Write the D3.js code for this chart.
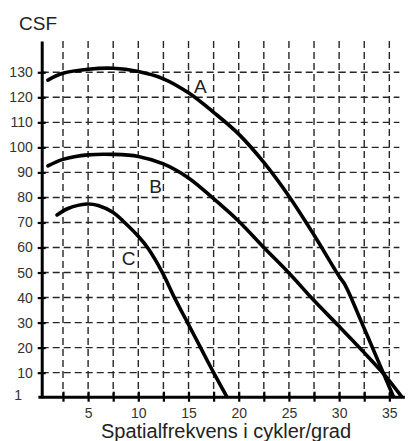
<!DOCTYPE html>
<html>
<head>
<meta charset="utf-8">
<script src="https://cdn.jsdelivr.net/npm/d3@7"></script>
<style>
  html, body { margin: 0; padding: 0; background: #fff; }
  svg { display: block; font-family: "Liberation Sans", Arial, sans-serif; }
</style>
</head>
<body>
<svg id="chart" width="410" height="441"></svg>
<script>
// ---- data ----
const xTickValues = [2.5, 5, 7.5, 10, 12.5, 15, 17.5, 20, 22.5, 25, 27.5, 30, 32.5, 35];
const xTickLabels = [5, 10, 15, 20, 25, 30, 35];
const yTickValues = [1, 10, 20, 30, 40, 50, 60, 70, 80, 90, 100, 110, 120, 130];
const yGridValues = [10, 20, 30, 40, 50, 60, 70, 80, 90, 100, 110, 120, 130];

const curveA = [[1.0,126.9],[2.5,129.6],[5,131.2],[7.5,131.6],[10,130.3],[12.5,127.4],[15,121.8],[17.5,114],[20,105.3],[22.5,94],[25,80.5],[27.5,65],[30,48.5],[30.6,45],[32.3,29.5],[34,13.6],[35.4,0.5]];
const curveB = [[1.0,92.6],[2.5,95.2],[5,97.0],[7.5,97.2],[10,96.4],[12.5,93.4],[15,87.8],[17.5,79.5],[20,70.5],[22.5,60],[25,49.8],[27.5,38.8],[30,28.5],[32.5,18],[34.5,9.2],[36.2,0.5]];
const curveC = [[1.9,73.0],[3,75.6],[4.9,77.4],[6,76.8],[7.5,74.0],[8.5,70.5],[10,64.5],[11,59.5],[12.4,50],[13.6,40],[14.9,30],[16.2,20],[17.5,10],[18.8,0.5]];
const seriesNames = ["A", "B", "C"];
const labelAnchors = [[15.55,121.6],[11.1,81.9],[8.35,53.0]];

const yTitle = "CSF";
const xTitle = "Spatialfrekvens i cykler/grad";

// ---- layout ----
const svg = d3.select("#chart");
const x = d3.scaleLinear().domain([0, 36.5]).range([37.9, 404.4]);
const y = d3.scaleLinear().domain([0, 142.5]).range([397.7, 41]);
const xAxisY = y(0.4);
const yAxisX = x(0.38);

// grid
const grid = svg.append("g")
  .attr("stroke", "#262626").attr("stroke-width", 1.4)
  .attr("stroke-dasharray", "7,4").attr("fill", "none");
grid.selectAll("line.v").data(xTickValues).join("line")
  .attr("class", "v")
  .attr("x1", d => x(d)).attr("x2", d => x(d))
  .attr("y1", y(142.5)).attr("y2", xAxisY);
grid.selectAll("line.h").data(yGridValues).join("line")
  .attr("class", "h")
  .attr("x1", yAxisX).attr("x2", x(36))
  .attr("y1", d => y(d)).attr("y2", d => y(d));

// curves
const line = d3.line().x(d => x(d[0])).y(d => y(d[1])).curve(d3.curveCatmullRom.alpha(0.5));
svg.append("g").selectAll("path").data([curveA, curveB, curveC]).join("path")
  .attr("d", line)
  .attr("fill", "none").attr("stroke", "#000").attr("stroke-width", 3.6)
  .attr("stroke-linecap", "round");

// x axis
const xAxis = svg.append("g").attr("transform", `translate(0,${xAxisY})`)
  .call(d3.axisBottom(x).tickValues(xTickValues).tickSizeInner(5).tickSizeOuter(0).tickPadding(6)
    .tickFormat(d => xTickLabels.includes(d) ? String(d) : ""));
xAxis.select(".domain").attr("stroke", "#000").attr("stroke-width", 3);
xAxis.selectAll(".tick line").attr("y1", -5).attr("stroke", "#000").attr("stroke-width", 2.2);
xAxis.selectAll(".tick text").attr("font-size", 14).attr("fill", "#333")
  .attr("font-family", "Liberation Sans, Arial, sans-serif");

// y axis
const yAxis = svg.append("g").attr("transform", `translate(${yAxisX},0)`)
  .call(d3.axisLeft(y).tickValues(yTickValues).tickSizeInner(4).tickSizeOuter(0).tickPadding(5));
yAxis.select(".domain").attr("stroke", "#000").attr("stroke-width", 3);
yAxis.selectAll(".tick line").attr("x1", 4).attr("stroke", "#000").attr("stroke-width", 2.2)
  .filter(d => d === 1).remove();
yAxis.selectAll(".tick text").attr("font-size", 14).attr("fill", "#333")
  .attr("font-family", "Liberation Sans, Arial, sans-serif");
yAxis.selectAll(".tick text").filter(d => d === 1)
  .attr("text-anchor", "start").attr("x", -27.5);

// titles
svg.append("text").attr("x", 19).attr("y", 29.5)
  .attr("font-size", 19).attr("fill", "#222").text(yTitle);
svg.append("text").attr("x", 226).attr("y", 438).attr("text-anchor", "middle")
  .attr("font-size", 20).attr("fill", "#222").text(xTitle);

// curve labels
svg.append("g").selectAll("text").data(seriesNames).join("text")
  .attr("x", (d, i) => x(labelAnchors[i][0]))
  .attr("y", (d, i) => y(labelAnchors[i][1]))
  .attr("font-size", 19).attr("fill", "#222").text(d => d);
</script>
</body>
</html>
